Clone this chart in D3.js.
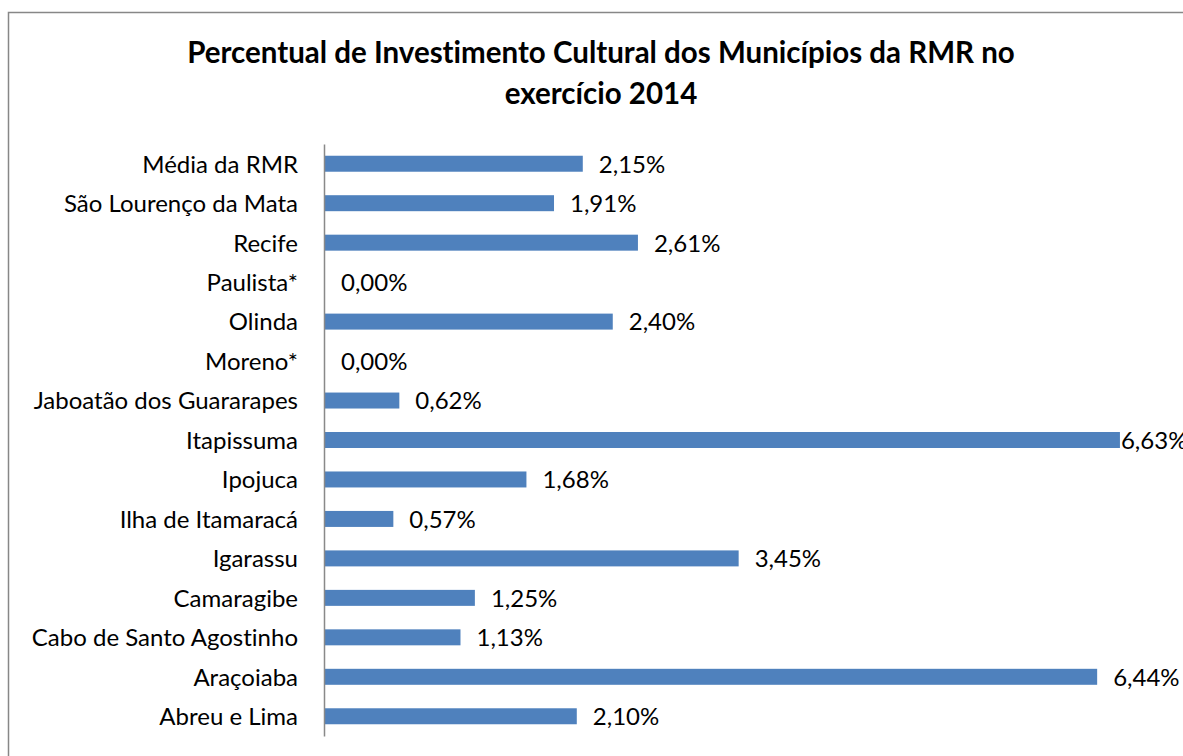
<!DOCTYPE html>
<html>
<head>
<meta charset="utf-8">
<script src="https://cdn.jsdelivr.net/npm/d3@7"></script>
<style>
  html, body { margin: 0; padding: 0; background: #fff; }
  svg text { font-family: Lato, "Open Sans", sans-serif; font-variant-ligatures: none; }
</style>
</head>
<body>
<div id="chart"></div>
<script>
(function() {
  var width = 1183;
  var height = 756;

  // data, top to bottom as drawn
  var municipios = ['Média da RMR', 'São Lourenço da Mata', 'Recife', 'Paulista*', 'Olinda', 'Moreno*',
    'Jaboatão dos Guararapes', 'Itapissuma', 'Ipojuca', 'Ilha de Itamaracá', 'Igarassu', 'Camaragibe',
    'Cabo de Santo Agostinho', 'Araçoiaba', 'Abreu e Lima'];
  var percentuais = [2.15, 1.91, 2.61, 0.00, 2.40, 0.00, 0.62, 6.63, 1.68, 0.57, 3.45, 1.25, 1.13, 6.44, 2.10];
  var titleLines = ['Percentual de Investimento Cultural dos Municípios da RMR no', 'exercício 2014'];

  var barColor = '#4F81BD';
  var axisColor = '#898989';
  var labelSize = 24;
  var margin = { top: 144, left: 324, bottom: 20 };

  var svg = d3.select('#chart').append('svg')
    .attr('width', width)
    .attr('height', height);

  // chart border (right and bottom edges fall outside the frame)
  svg.append('rect')
    .attr('x', 8.5)
    .attr('y', 12.5)
    .attr('width', width + 10)
    .attr('height', height + 10)
    .attr('fill', 'none')
    .attr('stroke', '#878787')
    .attr('stroke-width', 1.5);

  svg.selectAll('.title')
    .data(titleLines)
    .enter()
    .append('text')
    .attr('class', 'title')
    .attr('x', 601)
    .attr('y', function(d, i) { return 63 + i * 40.5; })
    .attr('text-anchor', 'middle')
    .attr('font-size', 29.5)
    .attr('font-weight', 'bold')
    .attr('fill', '#000')
    .text(function(d) { return d; });

  var x = d3.scaleLinear()
    .domain([0, 1])
    .range([margin.left + 1, margin.left + 1 + 119.9]);

  var y = d3.scaleBand()
    .domain(municipios)
    .range([margin.top, height - margin.bottom])
    .paddingInner(0.595)
    .paddingOuter(0.2975);

  var rows = svg.append('g').attr('class', 'rows');

  rows.selectAll('.bar')
    .data(percentuais)
    .enter()
    .append('rect')
    .attr('class', 'bar')
    .attr('x', x(0))
    .attr('y', function(d, i) { return y(municipios[i]); })
    .attr('width', function(d) { return x(d) - x(0); })
    .attr('height', y.bandwidth())
    .attr('fill', barColor);

  var maxLabelX = x(d3.max(percentuais)) + 1;

  rows.selectAll('.value')
    .data(percentuais)
    .enter()
    .append('text')
    .attr('class', 'value')
    .attr('x', function(d) { return Math.min(x(d) + 16, maxLabelX); })
    .attr('y', function(d, i) { return y(municipios[i]) + y.bandwidth() / 2; })
    .attr('dy', '0.37em')
    .attr('font-size', labelSize)
    .attr('fill', '#000')
    .text(function(d) { return d.toFixed(2).replace('.', ',') + '%'; });

  var yAxis = d3.axisLeft(y).tickSize(0).tickPadding(26);
  var axisG = svg.append('g')
    .attr('transform', 'translate(' + margin.left + ',0)')
    .call(yAxis);
  axisG.select('.domain')
    .attr('stroke', axisColor)
    .attr('stroke-width', 1.5);
  axisG.selectAll('.tick text')
    .attr('font-size', labelSize)
    .attr('font-family', 'Lato, "Open Sans", sans-serif')
    .attr('fill', '#000')
    .attr('dy', '0.37em');
}).call(this);
</script>
</body>
</html>
